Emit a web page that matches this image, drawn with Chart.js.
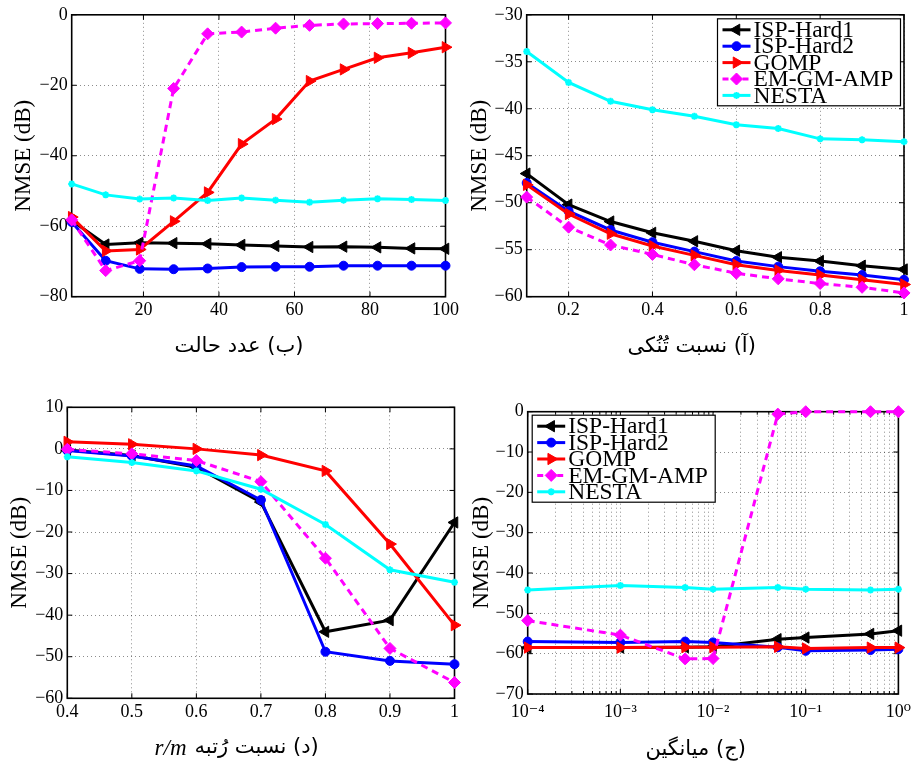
<!DOCTYPE html>
<html>
<head>
<meta charset="utf-8">
<script src="https://cdn.jsdelivr.net/npm/chart.js@4.4.1/dist/chart.umd.min.js"></script>
<style>
  html, body { margin: 0; padding: 0; background: #fff; }
  body { width: 918px; height: 769px; position: relative; overflow: hidden; }
  canvas { position: absolute; }
</style>
</head>
<body>
<canvas id="cStates" width="462" height="385" style="left:0;top:0"></canvas>
<canvas id="cSparsity" width="459" height="385" style="left:459px;top:0"></canvas>
<canvas id="cRank" width="462" height="384" style="left:0;top:385px"></canvas>
<canvas id="cMean" width="459" height="384" style="left:459px;top:385px"></canvas>
<script>
// ---------- data ----------
const seriesNames = ['ISP-Hard1', 'ISP-Hard2', 'GOMP', 'EM-GM-AMP', 'NESTA'];

// (ب) number of states
const statesX        = [1, 10, 19, 28, 37, 46, 55, 64, 73, 82, 91, 100];
const statesIspHard1 = [-58.4, -65.2, -64.7, -64.8, -65.0, -65.3, -65.6, -65.9, -65.8, -66.0, -66.3, -66.4];
const statesIspHard2 = [-58.8, -69.8, -72.1, -72.2, -72.0, -71.6, -71.5, -71.5, -71.2, -71.2, -71.2, -71.2];
const statesGomp     = [-57.4, -67.0, -66.6, -58.6, -50.4, -36.7, -29.6, -18.8, -15.5, -12.2, -10.8, -9.2];
const statesEmGmAmp  = [-58.2, -72.6, -69.8, -20.9, -5.4, -4.9, -3.8, -3.0, -2.6, -2.5, -2.4, -2.3];
const statesNesta    = [-48.0, -51.1, -52.3, -52.0, -52.7, -52.0, -52.6, -53.2, -52.6, -52.2, -52.4, -52.7];
const statesXTicks   = [20, 40, 60, 80, 100];
const statesYTicks   = [-80, -60, -40, -20, 0];

// (آ) sparsity ratio
const sparsityX        = [0.1, 0.2, 0.3, 0.4, 0.5, 0.6, 0.7, 0.8, 0.9, 1];
const sparsityIspHard1 = [-46.9, -50.2, -52.0, -53.2, -54.1, -55.1, -55.8, -56.2, -56.7, -57.1];
const sparsityIspHard2 = [-47.9, -50.9, -52.9, -54.2, -55.2, -56.2, -56.8, -57.3, -57.7, -58.2];
const sparsityGomp     = [-48.1, -51.2, -53.3, -54.6, -55.6, -56.6, -57.2, -57.7, -58.2, -58.7];
const sparsityEmGmAmp  = [-49.4, -52.6, -54.5, -55.5, -56.6, -57.5, -58.1, -58.6, -59.0, -59.6];
const sparsityNesta    = [-33.9, -37.2, -39.2, -40.1, -40.8, -41.7, -42.1, -43.2, -43.3, -43.5];
const sparsityXTicks   = [0.2, 0.4, 0.6, 0.8, 1];
const sparsityYTicks   = [-60, -55, -50, -45, -40, -35, -30];

// (د) rank ratio r/m
const rankX        = [0.4, 0.5, 0.6, 0.7, 0.8, 0.9, 1];
const rankIspHard1 = [-0.3, -1.6, -4.4, -12.8, -44.0, -41.2, -17.7];
const rankIspHard2 = [-0.4, -1.7, -4.1, -12.3, -48.8, -51.0, -51.8];
const rankGomp     = [1.7, 1.1, 0.0, -1.5, -5.3, -22.9, -42.4];
const rankEmGmAmp  = [-0.1, -1.2, -2.8, -7.9, -26.3, -48.0, -56.2];
const rankNesta    = [-1.9, -3.3, -5.3, -9.7, -18.2, -29.1, -32.1];
const rankXTicks   = [0.4, 0.5, 0.6, 0.7, 0.8, 0.9, 1];
const rankYTicks   = [-60, -50, -40, -30, -20, -10, 0, 10];

// (ج) mean
const meanX        = [1e-4, 1e-3, 5e-3, 1e-2, 5e-2, 1e-1, 5e-1, 1];
const meanIspHard1 = [-58.5, -58.5, -58.4, -58.3, -56.4, -56.0, -55.1, -54.3];
const meanIspHard2 = [-57.0, -57.2, -57.0, -57.2, -58.4, -59.3, -59.1, -58.9];
const meanGomp     = [-58.5, -58.5, -58.4, -58.4, -58.3, -58.7, -58.5, -58.5];
const meanEmGmAmp  = [-51.8, -55.4, -61.3, -61.2, -0.6, 0.0, 0.0, 0.0];
const meanNesta    = [-44.2, -43.1, -43.6, -44.0, -43.6, -44.0, -44.2, -44.0];
const meanDecades  = [1e-4, 1e-3, 1e-2, 1e-1, 1];
const meanXLabels  = ['10\u207B\u2074', '10\u207B\u00B3', '10\u207B\u00B2', '10\u207B\u00B9', '10\u2070'];
const meanYTicks   = [-70, -60, -50, -40, -30, -20, -10, 0];

// ---------- styling ----------
const FONT_SERIF = '"Liberation Serif", "DejaVu Serif", serif';
const FONT_FA = '"DejaVu Sans", sans-serif';

const STYLES = [
  { color: '#000000', pointStyle: 'triangle', rotation: -90, radius: 6.5, bw: 1, dash: [] },
  { color: '#0000ff', pointStyle: 'circle',   rotation: 0,   radius: 4.5, bw: 1, dash: [] },
  { color: '#ff0000', pointStyle: 'triangle', rotation: 90,  radius: 6.5, bw: 1, dash: [] },
  { color: '#ff00ff', pointStyle: 'rectRot',  rotation: 0,   radius: 6,   bw: 1, dash: [7, 5] },
  { color: '#00ffff', pointStyle: 'star',     rotation: 0,   radius: 3.5, bw: 2, dash: [] }
];

const fmtNum = v => (v < 0 ? '\u2212' : '') + String(Math.abs(v));

// ---------- plugins ----------
// axes box with inward tick marks (drawn beneath the curves)
const framePlugin = {
  id: 'frame',
  beforeDatasetsDraw(chart) {
    const { ctx, chartArea: a, scales } = chart;
    ctx.save();
    ctx.strokeStyle = '#000';
    ctx.lineWidth = 1;
    ctx.beginPath();
    scales.x.ticks.forEach(t => {
      const px = scales.x.getPixelForValue(t.value);
      const len = t.minor ? 3 : 5;
      ctx.moveTo(px, a.bottom); ctx.lineTo(px, a.bottom - len);
      ctx.moveTo(px, a.top); ctx.lineTo(px, a.top + len);
    });
    scales.y.ticks.forEach(t => {
      const py = scales.y.getPixelForValue(t.value);
      ctx.moveTo(a.left, py); ctx.lineTo(a.left + 5, py);
      ctx.moveTo(a.right, py); ctx.lineTo(a.right - 5, py);
    });
    ctx.stroke();
    ctx.lineWidth = 1.6;
    ctx.strokeRect(a.left, a.top, a.right - a.left, a.bottom - a.top);
    ctx.restore();
  }
};

// boxed legend with line-and-marker samples
const boxLegendPlugin = {
  id: 'boxLegend',
  afterDatasetsDraw(chart, args, o) {
    if (!o || !o.show) return;
    const { ctx, chartArea: a } = chart;
    const w = 183, h = 87;
    const x0 = o.side === 'right' ? a.right - 3.5 - w : a.left + 4.5;
    const y0 = a.top + o.top;
    ctx.save();
    ctx.fillStyle = '#fff';
    ctx.fillRect(x0, y0, w, h);
    ctx.strokeStyle = '#000';
    ctx.lineWidth = 1.2;
    ctx.strokeRect(x0, y0, w, h);
    chart.data.datasets.forEach((ds, i) => {
      const st = STYLES[i];
      const cy = y0 + 11 + i * 16.4;
      ctx.strokeStyle = st.color;
      ctx.fillStyle = st.color;
      ctx.lineWidth = 3;
      ctx.setLineDash(st.dash.length ? [6, 4] : []);
      ctx.beginPath();
      ctx.moveTo(x0 + 5, cy);
      ctx.lineTo(x0 + 33, cy);
      ctx.stroke();
      ctx.setLineDash([]);
      ctx.lineWidth = st.bw;
      Chart.helpers.drawPoint(ctx, {
        pointStyle: st.pointStyle, radius: st.radius, rotation: st.rotation, borderWidth: st.bw
      }, x0 + 19, cy);
      ctx.fillStyle = '#000';
      ctx.font = '23.5px ' + FONT_SERIF;
      ctx.textBaseline = 'middle';
      ctx.textAlign = 'left';
      ctx.fillText(ds.label, x0 + 36, cy + 1);
    });
    ctx.restore();
  }
};

// sub-figure caption (Persian, right-to-left, optional math part on the left)
const captionPlugin = {
  id: 'caption',
  afterDraw(chart, args, o) {
    if (!o || !o.text) return;
    const ctx = chart.ctx;
    ctx.save();
    ctx.fillStyle = '#000';
    ctx.textBaseline = 'middle';
    ctx.font = o.size + 'px ' + FONT_FA;
    ctx.direction = 'rtl';
    const wFa = ctx.measureText(o.text).width;
    let wM = 0, gap = 0;
    if (o.math) {
      ctx.direction = 'ltr';
      ctx.font = 'italic ' + (o.size + 2) + 'px ' + FONT_SERIF;
      wM = ctx.measureText(o.math).width;
      gap = 8;
    }
    const left = o.x - (wFa + gap + wM) / 2;
    if (o.math) {
      ctx.textAlign = 'left';
      ctx.fillText(o.math, left, o.y + 1);
    }
    ctx.direction = 'rtl';
    ctx.font = o.size + 'px ' + FONT_FA;
    ctx.textAlign = 'right';
    ctx.fillText(o.text, left + wM + gap + wFa, o.y);
    ctx.restore();
  }
};

// ---------- chart builder ----------
function makeDatasets(xs, ysList) {
  return ysList.map((ys, i) => {
    const st = STYLES[i];
    return {
      label: seriesNames[i],
      data: xs.map((x, j) => ({ x: x, y: ys[j] })),
      borderColor: st.color,
      backgroundColor: st.color,
      borderWidth: 3,
      borderDash: st.dash,
      pointStyle: st.pointStyle,
      pointRadius: st.radius,
      pointHoverRadius: st.radius,
      pointRotation: st.rotation,
      pointBackgroundColor: st.color,
      pointBorderColor: st.color,
      pointBorderWidth: st.bw,
      tension: 0,
      fill: false,
      clip: false,
      order: 10 - i
    };
  });
}

function gridOpts() {
  return { color: 'rgba(0,0,0,0.45)', lineWidth: 1, drawTicks: false, tickLength: 0 };
}

function buildChart(canvasId, g, xs, ysList, xSpec, ySpec, caption, legend) {
  const canvas = document.getElementById(canvasId);
  const H = canvas.height;
  return new Chart(canvas, {
    type: 'line',
    data: { datasets: makeDatasets(xs, ysList) },
    plugins: [framePlugin, boxLegendPlugin, captionPlugin],
    options: {
      responsive: false,
      animation: false,
      events: [],
      layout: { padding: { left: 0, top: g.top, right: g.right, bottom: 0 } },
      scales: {
        x: {
          type: xSpec.log ? 'logarithmic' : 'linear',
          position: 'bottom',
          min: xSpec.min, max: xSpec.max,
          afterBuildTicks: s => { s.ticks = xSpec.ticks.map(t => ({ value: t.value, minor: t.minor })); },
          afterFit: s => { s.height = H - g.bottom; },
          grid: gridOpts(),
          border: { display: false, dash: [1, 3] },
          ticks: {
            autoSkip: false, maxRotation: 0, minRotation: 0,
            padding: xSpec.pad, color: '#000',
            font: { family: FONT_SERIF, size: 18 },
            callback: (v) => xSpec.label(v)
          }
        },
        y: {
          type: 'linear',
          position: 'left',
          min: ySpec.min, max: ySpec.max,
          afterBuildTicks: s => { s.ticks = ySpec.ticks.map(v => ({ value: v })); },
          afterFit: s => { s.width = g.left; },
          grid: gridOpts(),
          border: { display: false, dash: [1, 3] },
          ticks: {
            autoSkip: false, padding: 4, color: '#000',
            font: { family: FONT_SERIF, size: 18 },
            callback: (v) => fmtNum(v)
          },
          title: {
            display: true, text: 'NMSE (dB)', color: '#000',
            font: { family: FONT_SERIF, size: 23, lineHeight: 1.2 },
            padding: { top: g.titleX - 13.8, bottom: 0 }
          }
        }
      },
      plugins: {
        legend: { display: false },
        tooltip: { enabled: false },
        boxLegend: legend,
        caption: caption
      }
    }
  });
}

const linearTicks = arr => arr.map(v => ({ value: v, minor: false }));
const logTicks = decades => {
  const out = [];
  decades.forEach((d, i) => {
    out.push({ value: d, minor: false });
    if (i < decades.length - 1) {
      for (let k = 2; k <= 9; k++) out.push({ value: k * d, minor: true });
    }
  });
  return out;
};

// (ب) number of states
buildChart('cStates',
  { left: 71.7, right: 13, top: 13.3, bottom: 296.7, titleX: 24 },
  statesX,
  [statesIspHard1, statesIspHard2, statesGomp, statesEmGmAmp, statesNesta],
  { min: 1, max: 100, ticks: linearTicks(statesXTicks), pad: 3, label: fmtNum },
  { min: -80, max: 0, ticks: statesYTicks },
  { text: '(ب) عدد حالت', x: 239, y: 347, size: 21 },
  { show: false });

// (آ) sparsity ratio
buildChart('cSparsity',
  { left: 67.7, right: 14, top: 13.3, bottom: 296.7, titleX: 21 },
  sparsityX,
  [sparsityIspHard1, sparsityIspHard2, sparsityGomp, sparsityEmGmAmp, sparsityNesta],
  { min: 0.1, max: 1, ticks: linearTicks(sparsityXTicks), pad: 3, label: fmtNum },
  { min: -60, max: -30, ticks: sparsityYTicks },
  { text: '(آ) نسبت تُنُکی', x: 232.7, y: 347, size: 21 },
  { show: true, side: 'right', top: 4 });

// (د) rank ratio
buildChart('cRank',
  { left: 67.3, right: 6.3, top: 22.3, bottom: 313.3, titleX: 20 },
  rankX,
  [rankIspHard1, rankIspHard2, rankGomp, rankEmGmAmp, rankNesta],
  { min: 0.4, max: 1, ticks: linearTicks(rankXTicks), pad: 3, label: fmtNum },
  { min: -60, max: 10, ticks: rankYTicks },
  { text: '(د) نسبت رُتبه', math: 'r/m', x: 236.7, y: 363, size: 21 },
  { show: false });

// (ج) mean
buildChart('cMean',
  { left: 68.7, right: 12, top: 26.7, bottom: 309, titleX: 22.7 },
  meanX,
  [meanIspHard1, meanIspHard2, meanGomp, meanEmGmAmp, meanNesta],
  { log: true, min: 1e-4, max: 1, ticks: logTicks(meanDecades), pad: 7,
    label: v => { const k = meanDecades.indexOf(v); return k >= 0 ? meanXLabels[k] : ''; } },
  { min: -70, max: 0, ticks: meanYTicks },
  { text: '(ج) میانگین', x: 236.7, y: 365, size: 21 },
  { show: true, side: 'left', top: 3.5 });
</script>
</body>
</html>
